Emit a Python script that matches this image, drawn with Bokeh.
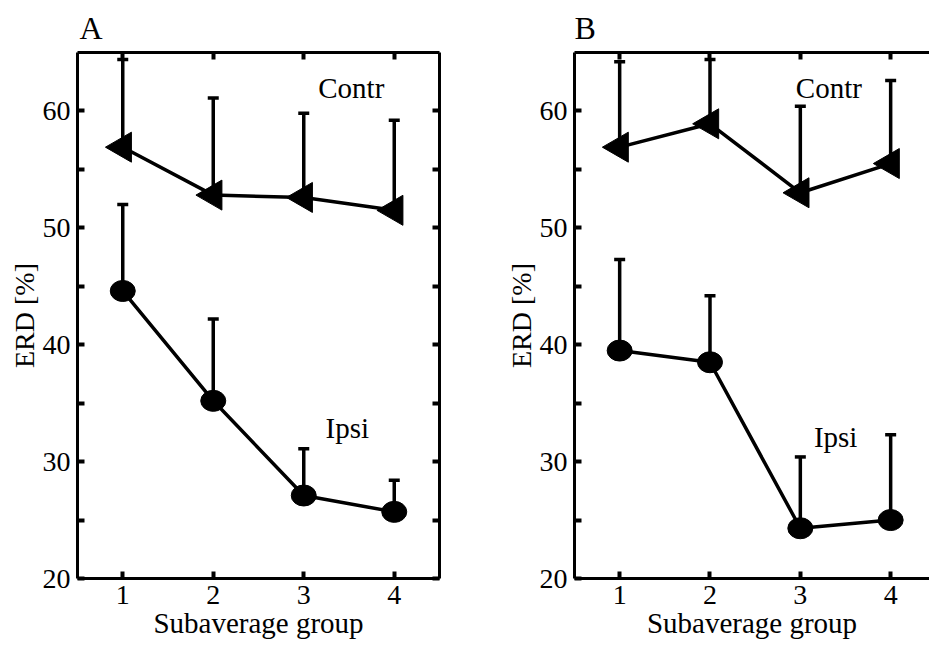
import math
from bokeh.plotting import figure
from bokeh.layouts import row
from bokeh.models import (ColumnDataSource, Whisker, TeeHead, FixedTicker,
                          LinearAxis, Label, Range1d)
from bokeh.embed import file_html
from bokeh.resources import INLINE

# ---- data ----
groups = [1, 2, 3, 4]
y_major_ticks = [20, 30, 40, 50, 60]
y_minor_ticks = [25, 35, 45, 55]

a_contr = [56.9, 52.8, 52.6, 51.5]
a_contr_top = [64.4, 61.1, 59.8, 59.2]
a_ipsi = [44.6, 35.2, 27.1, 25.7]
a_ipsi_top = [52.0, 42.2, 31.1, 28.4]

b_contr = [56.9, 58.9, 53.0, 55.5]
b_contr_top = [64.2, 64.4, 60.4, 62.6]
b_ipsi = [39.5, 38.5, 24.3, 25.0]
b_ipsi_top = [47.3, 44.2, 30.4, 32.3]

FONT = "Liberation Serif"


def style_axis(ax, show_labels, minor, label_size="29px"):
    ax.axis_line_width = 3
    ax.axis_line_color = "black"
    ax.major_tick_in = 7
    ax.major_tick_out = 0
    ax.major_tick_line_width = 4
    ax.major_tick_line_color = "black"
    if minor:
        ax.minor_tick_in = 7
        ax.minor_tick_out = 0
        ax.minor_tick_line_width = 4
        ax.minor_tick_line_color = "black"
    else:
        ax.minor_tick_line_color = None
    ax.major_label_text_font = FONT
    ax.axis_label_text_font = FONT
    ax.axis_label_text_font_style = "normal"
    ax.axis_label_text_font_size = label_size
    ax.axis_label_text_color = "black"
    if show_labels:
        ax.major_label_text_color = "black"
        ax.major_label_text_font_size = "28px"
        ax.major_label_standoff = 7
        ax.axis_label_standoff = 0
    else:
        ax.major_label_text_color = None
        ax.major_label_text_font_size = "0px"
        ax.major_label_standoff = 0


def make_panel(letter, contr, contr_top, ipsi, ipsi_top, x_end, width,
               border_left, border_right, show_right, letter_offset,
               contr_xy, ipsi_xy):
    p = figure(width=width, height=645, x_range=Range1d(0.5, x_end),
               y_range=Range1d(20, 65), output_backend="svg",
               toolbar_location=None, min_border_left=border_left,
               min_border_right=border_right, min_border_top=52,
               min_border_bottom=67)
    p.outline_line_color = None
    p.grid.visible = False
    p.background_fill_color = "white"
    p.border_fill_color = "white"

    p.title.text = letter
    p.title.text_font = FONT
    p.title.text_font_size = "32px"
    p.title.text_font_style = "normal"
    p.title.text_color = "black"
    p.title.align = "left"
    p.title.offset = letter_offset
    p.title.standoff = 13

    p.xaxis.ticker = FixedTicker(ticks=groups, minor_ticks=[])
    p.yaxis.ticker = FixedTicker(ticks=y_major_ticks, minor_ticks=y_minor_ticks)
    p.xaxis.axis_label = "Subaverage group"
    style_axis(p.xaxis[0], True, False, "29px")
    style_axis(p.yaxis[0], True, True, "28px")

    # y-axis title carried by a bare outer axis whose bounds centre it
    # a little below the middle of the frame, as in the reference
    ytitle = LinearAxis(ticker=FixedTicker(ticks=[], minor_ticks=[]),
                        bounds=(20, 60.4), axis_label="ERD [%]")
    style_axis(ytitle, False, False, "28px")
    ytitle.axis_line_color = None
    ytitle.major_tick_line_color = None
    ytitle.axis_label_standoff = 0
    p.add_layout(ytitle, "left")

    top = LinearAxis(ticker=FixedTicker(ticks=groups, minor_ticks=[]))
    style_axis(top, False, False)
    p.add_layout(top, "above")
    if show_right:
        right = LinearAxis(ticker=FixedTicker(ticks=y_major_ticks,
                                              minor_ticks=y_minor_ticks))
        style_axis(right, False, True)
        p.add_layout(right, "right")

    src_c = ColumnDataSource(dict(x=groups, y=contr, top=contr_top))
    src_i = ColumnDataSource(dict(x=groups, y=ipsi, top=ipsi_top))

    for src in (src_c, src_i):
        w = Whisker(source=src, base="x", lower="y", upper="top",
                    dimension="height", line_width=3.5, line_color="black",
                    upper_head=TeeHead(size=11, line_width=3.5,
                                       line_color="black"),
                    lower_head=None)
        p.add_layout(w)

    p.line("x", "y", source=src_c, line_width=3.5, line_color="black")
    p.line("x", "y", source=src_i, line_width=3.5, line_color="black")

    p.scatter("x", "y", source=src_c, marker="triangle", size=30,
              angle=math.pi / 2, fill_color="black", line_color="black")
    p.ellipse("x", "y", source=src_i, width=25, height=21,
              width_units="screen", height_units="screen",
              fill_color="black", line_color="black")

    for txt, (lx, ly) in (("Contr", contr_xy), ("Ipsi", ipsi_xy)):
        p.add_layout(Label(x=lx, y=ly, text=txt, text_font=FONT,
                           text_font_size="29px", text_color="black",
                           text_baseline="alphabetic", text_align="left"))
    return p


pa = make_panel("A", a_contr, a_contr_top, a_ipsi, a_ipsi_top, 4.5, 470,
                77, 31, True, 2, (3.16, 62.0), (3.24, 32.9))
pb = make_panel("B", b_contr, b_contr_top, b_ipsi, b_ipsi_top, 4.43, 459,
                104, 0, False, 0, (2.95, 62.0), (3.15, 32.1))

layout = row(pa, pb, spacing=0)
open("out.html", "w").write(file_html(layout, INLINE))
